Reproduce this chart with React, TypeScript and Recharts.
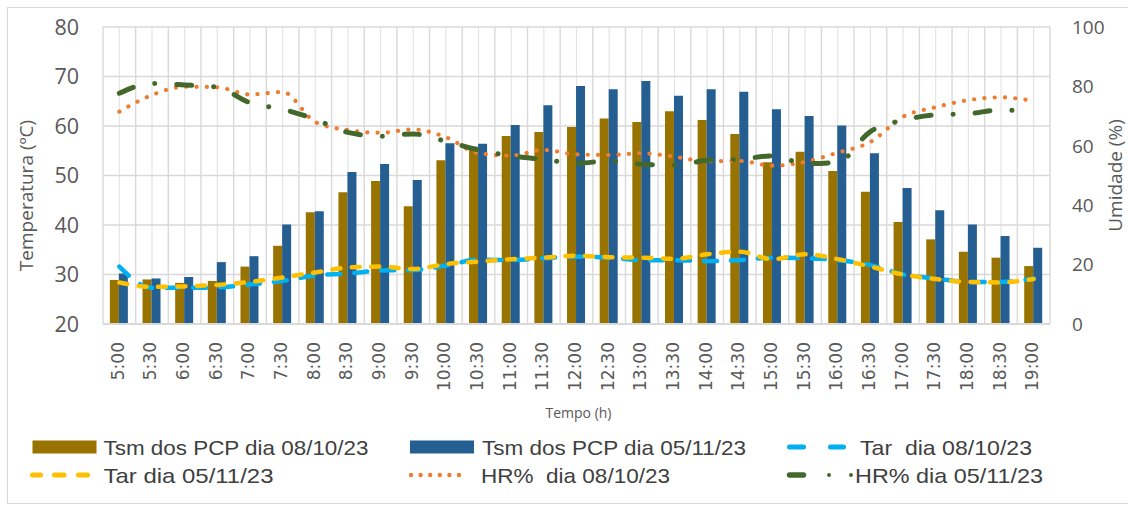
import React from "react";
import {
  ComposedChart,
  Bar,
  Line,
  XAxis,
  YAxis,
  CartesianGrid,
  Legend,
  Label,
} from "recharts";

const W = 1128;
const H = 506;

const times = [
  "5:00", "5:30", "6:00", "6:30", "7:00", "7:30", "8:00", "8:30", "9:00", "9:30",
  "10:00", "10:30", "11:00", "11:30", "12:00", "12:30", "13:00", "13:30", "14:00", "14:30",
  "15:00", "15:30", "16:00", "16:30", "17:00", "17:30", "18:00", "18:30", "19:00",
];

// Tsm dos PCP (ºC)
const tsm0810 = [
  28.9, 29.0, 28.3, 28.7, 31.6, 35.8, 42.6, 46.6, 48.9, 43.8,
  53.1, 55.8, 58.0, 58.8, 59.8, 61.5, 60.8, 63.0, 61.2, 58.4,
  52.7, 54.8, 50.9, 46.7, 40.6, 37.1, 34.6, 33.4, 31.7,
];
const tsm0511 = [
  30.2, 29.2, 29.5, 32.5, 33.7, 40.1, 42.8, 50.7, 52.3, 49.1,
  56.5, 56.4, 60.2, 64.2, 68.1, 67.4, 69.1, 66.1, 67.4, 66.9,
  63.4, 62.0, 60.1, 54.5, 47.5, 43.0, 40.1, 37.8, 35.4,
];

// Tar (ºC)
const tar0810 = [
  31.6, 27.3, 27.3, 27.4, 28.0, 28.7, 29.8, 30.2, 30.8, 30.9,
  31.8, 33.0, 32.9, 33.3, 33.6, 33.4, 32.9, 32.9, 32.7, 32.9,
  33.4, 33.3, 32.9, 31.9, 30.0, 29.2, 28.5, 28.5, 29.2,
];
const tar0511 = [
  28.4, 27.5, 27.6, 27.9, 28.5, 29.4, 30.4, 31.4, 31.6, 31.1,
  32.1, 32.6, 33.1, 33.4, 33.8, 33.5, 33.4, 33.2, 34.1, 34.6,
  33.1, 34.1, 33.1, 31.6, 30.0, 29.1, 28.5, 28.4, 29.1,
];

// HR (%)
const hr0810 = [
  71.5, 77.1, 79.9, 79.7, 77.3, 78.1, 68.0, 65.3, 64.4, 65.5,
  62.9, 57.5, 56.7, 58.6, 57.1, 56.9, 57.5, 56.3, 54.8, 54.9,
  53.3, 54.6, 57.7, 61.3, 69.8, 73.0, 75.4, 76.3, 75.1,
];
const hr0511 = [
  77.7, 81.0, 80.5, 79.7, 74.5, 72.3, 68.9, 64.5, 63.2, 64.0,
  61.5, 58.6, 56.6, 55.4, 54.1, 54.9, 53.8, 53.5, 55.1, 55.5,
  56.6, 54.0, 54.5, 64.8, 68.6, 70.4, 70.8, 72.1, 71.0,
];

const leftTicks = [20, 30, 40, 50, 60, 70, 80];
const rightTicks = [0, 20, 40, 60, 80, 100];

const names = [
  "Tsm dos PCP dia 08/10/23",
  "Tsm dos PCP dia 05/11/23",
  "Tar  dia 08/10/23",
  "Tar dia 05/11/23",
  "HR%  dia 08/10/23",
  "HR% dia 05/11/23",
];

const data = times.map((time, i) => ({
  time,
  tsm0810: tsm0810[i],
  tsm0511: tsm0511[i],
  tar0810: tar0810[i],
  tar0511: tar0511[i],
  hr0810: hr0810[i],
  hr0511: hr0511[i],
}));

const GOLD = "#997300";
const BLUE = "#255E91";
const CYAN = "#00B0F0";
const YELLOW = "#FFC000";
const ORANGE = "#ED7D31";
const GREEN = "#43682B";
const GRID = "#d9d9d9";
const TXT = "#595959";

const XTick = ({ x, y, payload }: any) => (
  <text
    x={x - 1.5}
    y={y}
    transform={`rotate(-90 ${x - 1.5} ${y})`}
    textAnchor="end"
    dominantBaseline="central"
    fontFamily="DejaVu Sans"
    fontSize={17}
    fill={TXT}
  >
    {payload.value}
  </text>
);

const LeftTitle = ({ viewBox }: any) => {
  const cx = viewBox.x + 25.5;
  const cy = viewBox.y + viewBox.height / 2 + 20;
  return (
    <text x={cx} y={cy} transform={`rotate(-90 ${cx} ${cy})`} textAnchor="middle"
      dominantBaseline="central" fontFamily="Open Sans" fontSize={19} fill={TXT}>
      Temperatura (ºC)
    </text>
  );
};

const RightTitle = ({ viewBox }: any) => {
  const cx = viewBox.x + 65;
  const cy = viewBox.y + viewBox.height / 2;
  return (
    <text x={cx} y={cy} transform={`rotate(-90 ${cx} ${cy})`} textAnchor="middle"
      dominantBaseline="central" fontFamily="Open Sans" fontSize={19} fill={TXT}>
      Umidade (%)
    </text>
  );
};

const XTitle = ({ viewBox }: any) => (
  <text x={viewBox.x + viewBox.width / 2 + 2} y={viewBox.y + 88} textAnchor="middle"
    dominantBaseline="central" fontFamily="Open Sans" fontSize={14} fill={TXT}>
    Tempo (h)
  </text>
);

// legend text boxes: [x, width]
const legendText = [
  [103.5, 265], [482, 264], [860, 172], [103.5, 170], [481, 189], [855, 188],
];

const LegendBox = () => {
  const r1 = 23;
  const r2 = 51;
  const t = (i: number, y: number) => (
    <text
      key={i}
      x={legendText[i][0]}
      y={y}
      textLength={legendText[i][1]}
      lengthAdjust="spacingAndGlyphs"
      xmlSpace="preserve"
      dominantBaseline="central"
      fontFamily="Liberation Sans"
      fontSize={21}
      fill="#404040"
    >
      {names[i]}
    </text>
  );
  return (
    <svg width={W} height={82} style={{ display: "block" }}>
      <rect x={32.5} y={r1 - 6.5} width={64} height={13} fill={GOLD} />
      {t(0, r1)}
      <rect x={410} y={r1 - 6.5} width={64} height={13} fill={BLUE} />
      {t(1, r1)}
      <g stroke={CYAN} strokeWidth={5} strokeLinecap="round">
        <line x1={789.5} y1={r1} x2={803.5} y2={r1} />
        <line x1={830.5} y1={r1} x2={843.5} y2={r1} />
      </g>
      {t(2, r1)}
      <g stroke={YELLOW} strokeWidth={5} strokeLinecap="round">
        <line x1={32.5} y1={r2} x2={40.5} y2={r2} />
        <line x1={54.5} y1={r2} x2={64} y2={r2} />
        <line x1={78.5} y1={r2} x2={87.5} y2={r2} />
      </g>
      {t(3, r2)}
      <g fill={ORANGE}>
        {[0, 1, 2, 3, 4, 5].map((k) => (
          <circle key={k} cx={411 + k * 9.6} cy={r2} r={2.2} />
        ))}
      </g>
      {t(4, r2)}
      <line x1={789.5} y1={r2} x2={803.5} y2={r2} stroke={GREEN} strokeWidth={5.5} strokeLinecap="round" />
      <circle cx={829} cy={r2} r={2} fill={GREEN} />
      <circle cx={851} cy={r2} r={2} fill={GREEN} />
      {t(5, r2)}
    </svg>
  );
};

const boundaryLines = ({ offset }: any) => {
  const o = offset ?? { left: 103, width: 947 };
  return times.concat([""]).map((_, i) => o.left + (i * o.width) / times.length);
};
const centerLines = ({ offset }: any) => {
  const o = offset ?? { left: 103, width: 947 };
  return times.map((_, i) => o.left + ((i + 0.5) * o.width) / times.length);
};

export default function App() {
  return (
    <div style={{ position: "absolute", left: 0, top: 0, width: W, height: H, background: "#fff", overflow: "hidden" }}>
      <div style={{ position: "absolute", left: 7, top: 7, width: W + 10, height: 495, border: `1px solid ${GRID}` }} />
      <ComposedChart
        width={W}
        height={H}
        data={data}
        margin={{ top: 27, right: 0, bottom: 0, left: 0 }}
        barCategoryGap="21%"
        barGap={0}
        style={{ position: "absolute", left: 0, top: 0 }}
      >
        <CartesianGrid yAxisId="left" stroke="#e4e4e4" strokeWidth={1.2} horizontal={false}
          verticalCoordinatesGenerator={centerLines} />
        <CartesianGrid yAxisId="left" stroke={GRID} strokeWidth={1.4}
          verticalCoordinatesGenerator={boundaryLines} />
        <XAxis
          dataKey="time"
          height={100}
          interval={0}
          tick={<XTick />}
          tickLine={false}
          tickMargin={12}
          axisLine={{ stroke: GRID, strokeWidth: 2 }}
        >
          <Label content={<XTitle />} />
        </XAxis>
        <YAxis
          yAxisId="left"
          orientation="left"
          width={103}
          domain={[20, 80]}
          ticks={leftTicks}
          tickLine={false}
          axisLine={false}
          tickMargin={18}
          tick={{ fontSize: 21.5, fill: TXT, fontFamily: "Open Sans" }}
        >
          <Label content={<LeftTitle />} />
        </YAxis>
        <YAxis
          yAxisId="right"
          orientation="right"
          width={78}
          domain={[0, 100]}
          ticks={rightTicks}
          tickLine={false}
          axisLine={false}
          tickMargin={16}
          tick={{ fontSize: 19, fill: TXT, fontFamily: "Open Sans", textAnchor: "start" }}
        >
          <Label content={<RightTitle />} />
        </YAxis>
        <Bar yAxisId="left" dataKey="tsm0810" name={names[0]} fill={GOLD} isAnimationActive={false} />
        <Bar yAxisId="left" dataKey="tsm0511" name={names[1]} fill={BLUE} isAnimationActive={false} />
        <Line yAxisId="left" type="monotone" dataKey="tar0810" name={names[2]} stroke={CYAN}
          strokeWidth={4.5} strokeDasharray="13 14" strokeLinecap="round"
          dot={false} activeDot={false} isAnimationActive={false} />
        <Line yAxisId="left" type="monotone" dataKey="tar0511" name={names[3]} stroke={YELLOW}
          strokeWidth={4.5} strokeDasharray="8 11.5" strokeLinecap="round"
          dot={false} activeDot={false} isAnimationActive={false} />
        <Line yAxisId="right" type="monotone" dataKey="hr0810" name={names[4]} stroke={ORANGE}
          strokeWidth={4.2} strokeDasharray="0.1 10.2" strokeLinecap="round"
          dot={false} activeDot={false} isAnimationActive={false} />
        <Line yAxisId="right" type="monotone" dataKey="hr0511" name={names[5]} stroke={GREEN}
          strokeWidth={5} strokeDasharray="15 22 0.1 22" strokeLinecap="round"
          dot={false} activeDot={false} isAnimationActive={false} />
        <Legend
          verticalAlign="bottom"
          wrapperStyle={{ left: 0, bottom: 0, width: W, height: 82 }}
          content={() => <LegendBox />}
        />
      </ComposedChart>
    </div>
  );
}
